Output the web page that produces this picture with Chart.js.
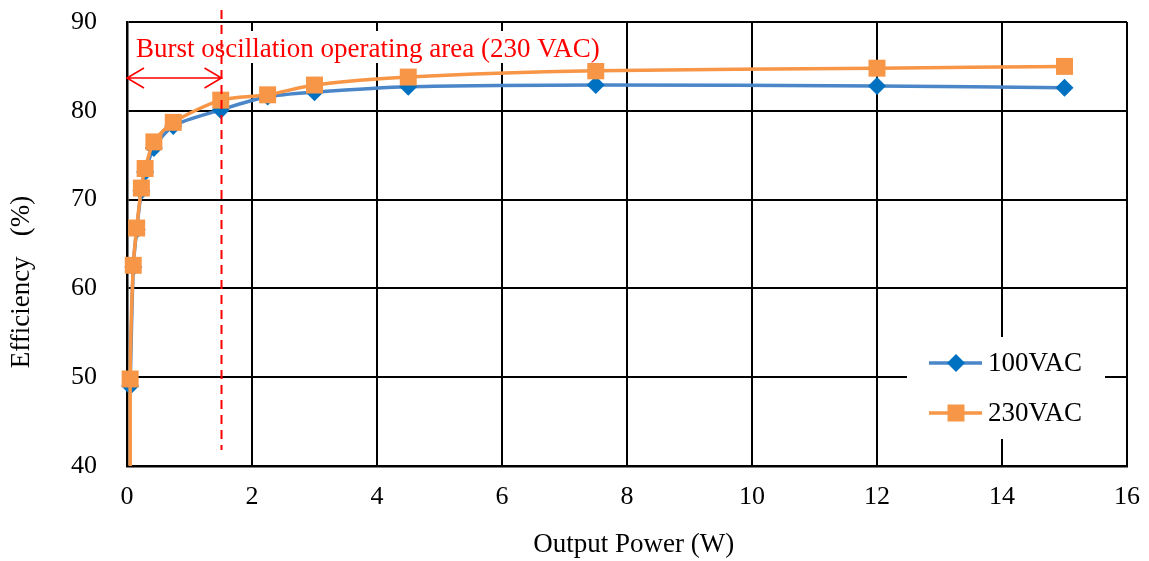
<!DOCTYPE html>
<html>
<head>
<meta charset="utf-8">
<script src="https://cdn.jsdelivr.net/npm/chart.js@4"></script>
<style>
  html, body { margin: 0; padding: 0; background: #fff; }
  #wrap { width: 1149px; height: 561px; }
</style>
</head>
<body>
<div id="wrap"><canvas id="c" width="1149" height="561"></canvas></div>
<script>
// ---- data ----
const powerW   = [0.05, 0.1, 0.155, 0.23, 0.29, 0.43, 0.74, 1.5, 2.25, 3, 4.5, 7.5, 12, 15];
const eff100   = [49.0, 62.4, 66.6, 71.0, 73.1, 75.8, 78.3, 80.1, 81.6, 82.1, 82.7, 82.9, 82.8, 82.6];
const eff230   = [49.8, 62.6, 66.8, 71.3, 73.5, 76.5, 78.7, 81.2, 81.8, 82.9, 83.8, 84.5, 84.8, 85.0];
// extra light-load point of the 230 VAC series (below the visible range)
const lead230X = [0.06];
const lead230Y = [30];
const seriesLabels = ['100VAC', '230VAC'];
const xTicks = [0, 2, 4, 6, 8, 10, 12, 14, 16];
const yTicks = [40, 50, 60, 70, 80, 90];
const burstLimitW = 1.5;
const burstText = 'Burst oscillation operating area (230 VAC)';
const xTitle = '  Output Power (W)';
const yTitle = 'Efficiency   (%)';

const FONT = '"Liberation Serif", "Times New Roman", serif';
const BLUE_LINE = '#4A86C8', BLUE_MARK = '#0070C0', ORANGE = '#F79646';

const pts = (xs, ys) => xs.map((x, i) => ({ x, y: ys[i] }));

const overlay = {
  id: 'overlay',
  afterDatasetsDraw(chart) {
    const { ctx } = chart;
    const xs = chart.scales.x;
    ctx.save();
    // annotation text box
    ctx.fillStyle = '#fff';
    ctx.fillRect(131, 31, 480, 32);
    ctx.fillStyle = '#FF0000';
    ctx.font = '27px ' + FONT;
    ctx.textBaseline = 'alphabetic';
    ctx.textAlign = 'left';
    ctx.fillText(burstText, 136, 57);
    // dashed limit line
    const xl = Math.round(xs.getPixelForValue(burstLimitW)) + 0.5;
    ctx.strokeStyle = '#FF0000';
    ctx.lineWidth = 2;
    ctx.setLineDash([9, 6]);
    ctx.beginPath();
    ctx.moveTo(xl, 10);
    ctx.lineTo(xl, 450);
    ctx.stroke();
    ctx.setLineDash([]);
    // double arrow
    const x0 = xs.getPixelForValue(0), ya = 78;
    ctx.lineWidth = 1.6;
    ctx.beginPath();
    ctx.moveTo(x0, ya); ctx.lineTo(xl, ya);
    ctx.moveTo(x0 + 17, ya - 10); ctx.lineTo(x0, ya); ctx.lineTo(x0 + 17, ya + 10);
    ctx.moveTo(xl - 17, ya - 10); ctx.lineTo(xl, ya); ctx.lineTo(xl - 17, ya + 10);
    ctx.stroke();

    // legend
    ctx.fillStyle = '#fff';
    ctx.fillRect(907, 337, 198, 102);
    const items = [
      { y: 363, line: BLUE_LINE, mark: BLUE_MARK, style: 'diamond' },
      { y: 413, line: ORANGE, mark: ORANGE, style: 'square' }
    ];
    ctx.font = '27px ' + FONT;
    ctx.textBaseline = 'middle';
    items.forEach((it, i) => {
      ctx.strokeStyle = it.line;
      ctx.lineWidth = 3.5;
      ctx.beginPath();
      ctx.moveTo(929, it.y); ctx.lineTo(982, it.y);
      ctx.stroke();
      ctx.fillStyle = it.mark;
      ctx.beginPath();
      if (it.style === 'diamond') {
        ctx.moveTo(956, it.y - 9); ctx.lineTo(965, it.y); ctx.lineTo(956, it.y + 9); ctx.lineTo(947, it.y);
        ctx.closePath();
      } else {
        ctx.rect(947.5, it.y - 8.5, 17, 17);
      }
      ctx.fill();
      ctx.fillStyle = '#000';
      ctx.fillText(seriesLabels[i], 988, it.y + 1);
    });

    // y title
    ctx.translate(22, 282);
    ctx.rotate(-Math.PI / 2);
    ctx.textAlign = 'center';
    ctx.textBaseline = 'middle';
    ctx.fillStyle = '#000';
    ctx.font = '27px ' + FONT;
    ctx.fillText(yTitle, 0, 0);
    ctx.restore();
  }
};

new Chart(document.getElementById('c'), {
  type: 'scatter',
  data: {
    datasets: [
      {
        label: seriesLabels[0],
        data: pts(powerW, eff100),
        showLine: true,
        borderColor: BLUE_LINE,
        borderWidth: 3.5,
        tension: 0.25,
        pointStyle: 'rectRot',
        pointRadius: 9,
        pointHoverRadius: 9,
        pointBackgroundColor: BLUE_MARK,
        pointBorderColor: BLUE_MARK,
        pointBorderWidth: 0,
        order: 2,
        clip: { left: 20, top: 20, right: 20, bottom: 0 }
      },
      {
        label: seriesLabels[1],
        data: pts(lead230X.concat(powerW), lead230Y.concat(eff230)),
        showLine: true,
        borderColor: ORANGE,
        borderWidth: 3.5,
        tension: 0.25,
        pointStyle: 'rect',
        pointRadius: 12,
        pointHoverRadius: 12,
        pointBackgroundColor: ORANGE,
        pointBorderColor: ORANGE,
        pointBorderWidth: 0,
        order: 1,
        clip: { left: 20, top: 20, right: 20, bottom: 0 }
      }
    ]
  },
  options: {
    responsive: false,
    animation: false,
    devicePixelRatio: 1,
    layout: { padding: { left: 0, right: 22, top: 22, bottom: 0 } },
    plugins: { legend: { display: false }, tooltip: { enabled: false } },
    scales: {
      x: {
        type: 'linear',
        min: xTicks[0], max: xTicks[xTicks.length - 1],
        afterBuildTicks: s => { s.ticks = xTicks.map(v => ({ value: v })); },
        afterFit: s => { s.height = 95; s.paddingLeft = 0; s.paddingRight = 0; },
        grid: { color: '#000', lineWidth: 2, drawTicks: false },
        border: { display: true, color: '#000', width: 2.5 },
        ticks: { color: '#000', font: { family: FONT, size: 26 }, padding: 16, maxRotation: 0 },
        title: { display: true, text: xTitle, color: '#000', font: { family: FONT, size: 27 }, padding: { top: 0, bottom: 0 } }
      },
      y: {
        type: 'linear',
        min: yTicks[0], max: yTicks[yTicks.length - 1],
        afterBuildTicks: s => { s.ticks = yTicks.map(v => ({ value: v })); },
        afterFit: s => { s.width = 127; s.paddingTop = 0; s.paddingBottom = 0; },
        grid: { color: '#000', lineWidth: 2, drawTicks: false },
        border: { display: true, color: '#000', width: 2.5 },
        ticks: { color: '#000', font: { family: FONT, size: 26 }, padding: 30 }
      }
    }
  },
  plugins: [overlay]
});
</script>
</body>
</html>
